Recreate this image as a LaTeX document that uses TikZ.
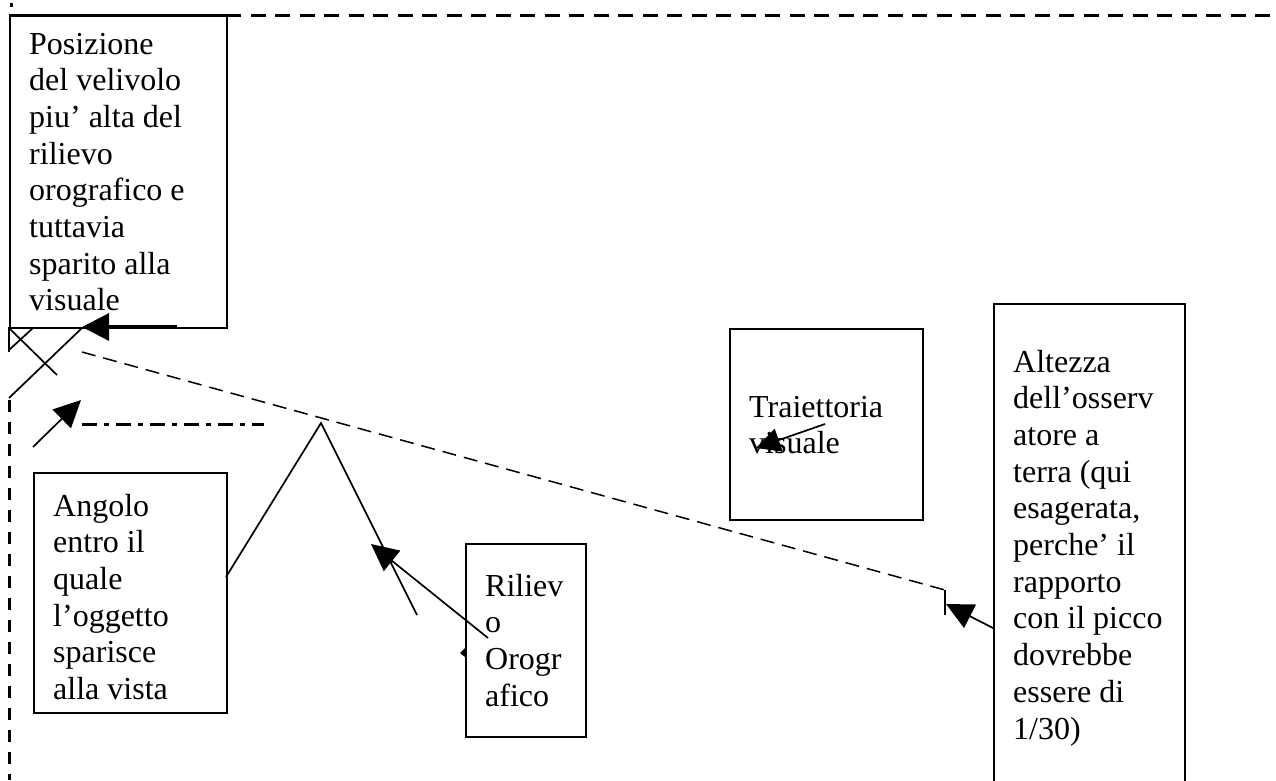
\documentclass[tikz,border=0pt]{standalone}
\usepackage{fontspec}
\setmainfont{Liberation Serif}
\usetikzlibrary{arrows.meta}
\newcommand{\mytxt}[1]{\parbox[t]{300pt}{\raggedright #1}}
\begin{document}
\begin{tikzpicture}[x=1pt,y=-1pt,
  box/.style={draw=black, line width=1.6pt, inner sep=0pt, anchor=north west},
  txt/.style={inner sep=0pt, anchor=base west, font=\fontsize{32}{36.7}\selectfont},
  wordarrow/.style={-{Triangle[length=27pt,width=26pt]}, line width=1.7pt},
  thickdash/.style={line width=3pt, dash pattern=on 15pt off 9.5pt},
  sight/.style={line width=1.5pt, dash pattern=on 14pt off 8pt},
  dashdot/.style={line width=3pt, dash pattern=on 15pt off 7pt on 5pt off 7pt},
  plain/.style={line width=1.7pt}]
\useasboundingbox (0,0) rectangle (1276,780);
\fill[white] (0,0) rectangle (1276,780);

% boxes
\node[box, minimum width=217pt, minimum height=312pt] (b1) at (9,15) {};
\node[box, minimum width=193pt, minimum height=240pt] (b2) at (33,472) {};
\node[box, minimum width=120pt, minimum height=193pt] (b3) at (465,543) {};
\node[box, minimum width=193pt, minimum height=191pt] (b4) at (729,328) {};
\node[box, minimum width=191pt, minimum height=490pt] (b5) at (993,303) {};

% texts
\node[txt] (t1) at (29,54) {\mytxt{Posizione\\del velivolo\\piu’ alta del\\rilievo\\orografico e\\tuttavia\\sparito alla\\visuale}};
\node[txt] (t2) at (53,516) {\mytxt{Angolo\\entro il\\quale\\l’oggetto\\sparisce\\alla vista}};
\node[txt] (t3) at (485,596) {\mytxt{Riliev\\o\\Orogr\\afico}};
\node[txt] (t4) at (749,417) {\mytxt{Traiettoria\\visuale}};
\node[txt] (t5) at (1013,372) {\mytxt{Altezza\\dell’osserv\\atore a\\terra (qui\\esagerata,\\perche’ il\\rapporto\\con il picco\\dovrebbe\\essere di\\1/30)}};

% coordinates
\coordinate (topL) at (226,15);
\coordinate (topR) at (1276,15);
\coordinate (vA) at (9,327);
\coordinate (vB) at (9,352);
\coordinate (vC) at (9,400);
\coordinate (vD) at (9,780);
\coordinate (sightA) at (82,352);
\coordinate (sightB) at (945,590);
\coordinate (sightC) at (945,615);
\coordinate (ddA) at (82,424);
\coordinate (ddB) at (264,424);
\coordinate (mtL) at (226,577);
\coordinate (peak) at (321,423);
\coordinate (mtR) at (417,615);
\coordinate (x1a) at (10,329);
\coordinate (x1b) at (57,375);
\coordinate (x2a) at (9,398);
\coordinate (x2b) at (82,328);
\coordinate (x3a) at (9,350);
\coordinate (x3b) at (33,328);
\coordinate (a1s) at (177,327);
\coordinate (a1e) at (82,327);
\coordinate (a2s) at (33,447);
\coordinate (a2e) at (81,400);
\coordinate (a3s) at (488,638);
\coordinate (a3e) at (371,544);
\coordinate (a4s) at (825,424);
\coordinate (a4e) at (756,448);
\coordinate (a5s) at (993,628);
\coordinate (a5e) at (946,604);

% top dot
\fill (10,3) rectangle (13,7);

% dashed frame
\draw[thickdash] (topL) -- (topR);
\draw[line width=2.6pt] (b1.north west) -- (topL);
\draw[line width=2.6pt] (vA) -- (vB);
\draw[thickdash, dash pattern=on 12pt off 10pt] (vC) -- (vD);

% sight line
\draw[sight] (sightA) -- (sightB);
\draw[plain, line width=1.4pt] (sightB) -- (sightC);

% dash-dot horizontal
\draw[dashdot] (ddA) -- (ddB);

% mountain
\draw[plain] (mtL) -- (peak) -- (mtR);

% crossing lines
\draw[plain] (x1a) -- (x1b);
\draw[plain] (x2a) -- (x2b);
\draw[plain] (x3a) -- (x3b);

% arrows
\draw[wordarrow, line width=3.2pt, -{Triangle[length=27pt,width=27pt]}] (a1s) -- (a1e);
\draw[wordarrow] (a2s) -- (a2e);
\draw[wordarrow] (a3s) -- (a3e);
\draw[wordarrow, -{Triangle[length=24pt,width=24pt]}] (a4s) -- (a4e);
\draw[wordarrow] (a5s) -- (a5e);

% small remnant mark near Rilievo box
\fill (460,653) -- (465,648) -- (465,657) -- cycle;
\end{tikzpicture}
\end{document}
